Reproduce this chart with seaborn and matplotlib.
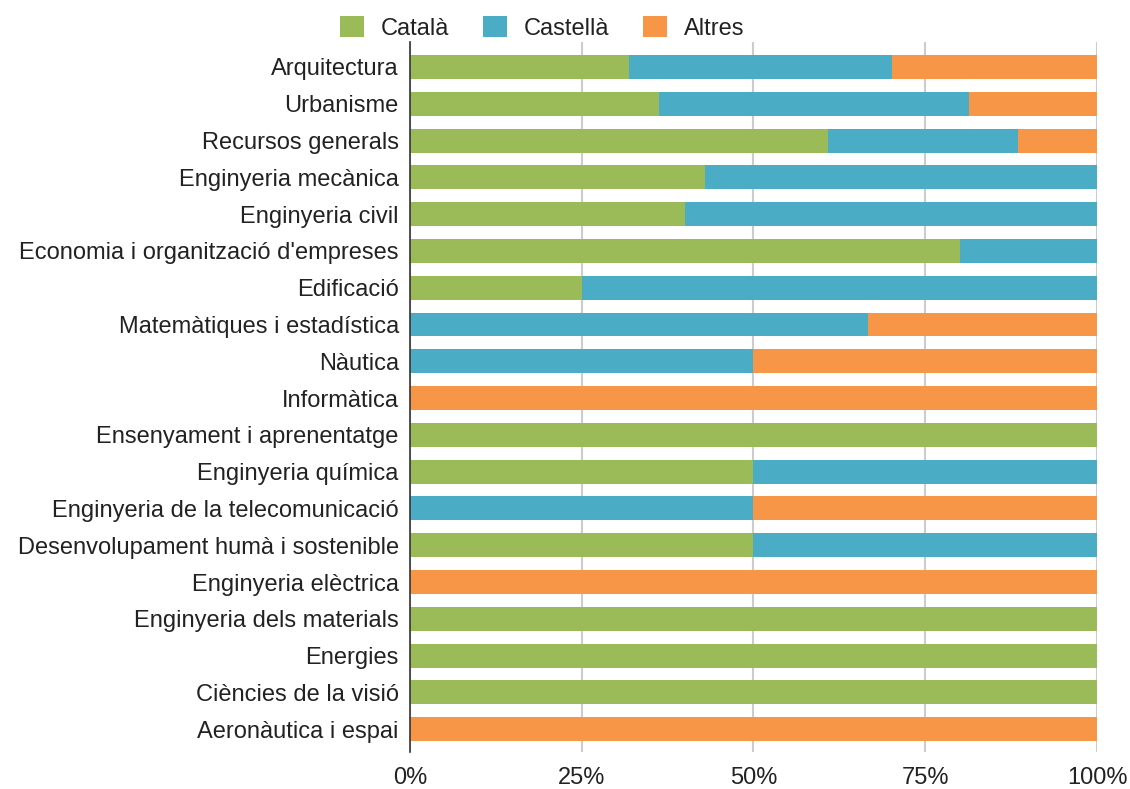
import matplotlib
matplotlib.use("Agg")
import matplotlib.pyplot as plt
import seaborn as sns
import pandas as pd
from matplotlib.patches import Patch

categories = [
    "Arquitectura", "Urbanisme", "Recursos generals", "Enginyeria mecànica",
    "Enginyeria civil", "Economia i organització d'empreses", "Edificació",
    "Matemàtiques i estadística", "Nàutica", "Informàtica",
    "Ensenyament i aprenentatge", "Enginyeria química",
    "Enginyeria de la telecomunicació", "Desenvolupament humà i sostenible",
    "Enginyeria elèctrica", "Enginyeria dels materials", "Energies",
    "Ciències de la visió", "Aeronàutica i espai",
]
catala = [31.9, 36.2, 60.9, 42.9, 40.0, 80.0, 25.0, 0, 0, 0, 100, 50, 0, 50, 0, 100, 100, 100, 0]
castella = [38.3, 45.1, 27.6, 57.1, 60.0, 20.0, 75.0, 66.7, 50, 0, 0, 50, 50, 50, 0, 0, 0, 0, 0]
altres = [29.8, 18.7, 11.5, 0, 0, 0, 0, 33.3, 50, 100, 0, 0, 50, 0, 100, 0, 0, 0, 100]

series = ["Català", "Castellà", "Altres"]
colors = ["#9BBB59", "#4BACC6", "#F79646"]

df = pd.DataFrame({"area": categories, "Català": catala,
                   "Castellà": castella, "Altres": altres})
df["cum_cat"] = df["Català"]
df["cum_cas"] = df["Català"] + df["Castellà"]
df["cum_all"] = df["cum_cas"] + df["Altres"]

sns.set_style("white")
plt.rcParams["font.family"] = ["Liberation Sans", "DejaVu Sans"]

fig = plt.figure(figsize=(11.3, 7.89), dpi=100)
ax = fig.add_axes([0.3628, 0.0469, 0.608, 0.8999])

# stacked bars: draw cumulative totals back to front
for col, color in [("cum_all", colors[2]), ("cum_cas", colors[1]), ("cum_cat", colors[0])]:
    sns.barplot(data=df, x=col, y="area", orient="h", color=color,
                width=0.65, ax=ax, saturation=1, linewidth=0, zorder=3)

ax.set_xlim(0, 100)
ax.set_ylim(len(categories) - 1 + 0.62, -0.68)
ax.set_xticks([0, 25, 50, 75, 100])
ax.set_xticklabels(["0%", "25%", "50%", "75%", "100%"])
ax.xaxis.grid(True, color="#cccccc", linewidth=1.5, zorder=0)
ax.set_axisbelow(True)
ax.set_xlabel("")
ax.set_ylabel("")
for s in ["top", "right", "bottom"]:
    ax.spines[s].set_visible(False)
ax.spines["left"].set_color("#333333")
ax.spines["left"].set_linewidth(1.2)
ax.spines["left"].set_zorder(5)
ax.tick_params(axis="y", length=0, pad=8, labelsize=17, labelcolor="#222222")
ax.tick_params(axis="x", length=0, pad=11, labelsize=17, labelcolor="#222222")

handles = [Patch(facecolor=c, edgecolor="none", label=s) for s, c in zip(series, colors)]
fig.legend(handles=handles, loc="center left", bbox_to_anchor=(0.3009, 0.9645),
           ncol=3, frameon=False, fontsize=17, handlelength=1.0, handleheight=1.0,
           columnspacing=1.44, handletextpad=0.72, borderpad=0, borderaxespad=0,
           labelcolor="#222222")

fig.savefig("out.png", dpi=100)
